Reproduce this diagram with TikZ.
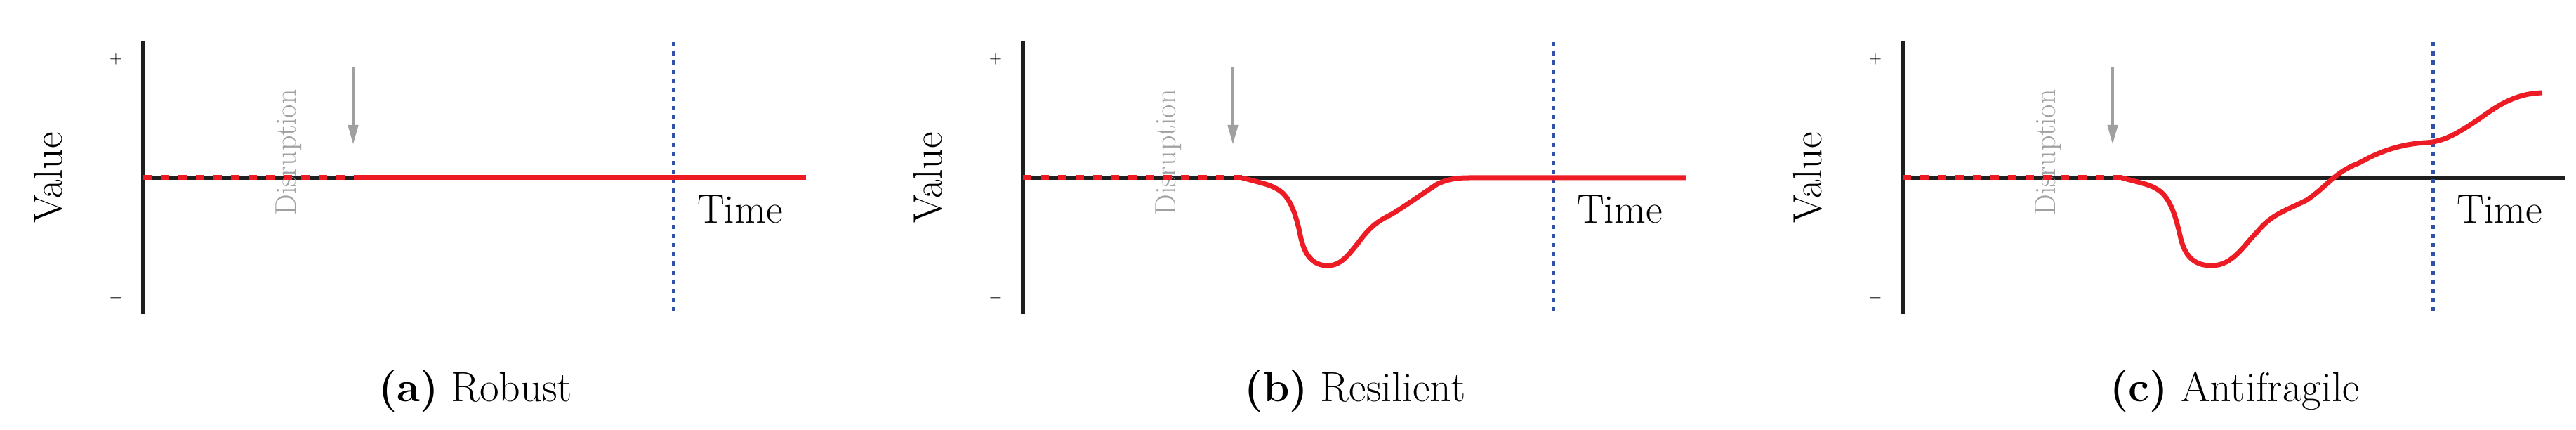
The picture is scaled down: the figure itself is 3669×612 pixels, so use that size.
\documentclass[tikz,border=0pt]{standalone}
\usepackage{xcolor}
\usetikzlibrary{arrows.meta}
\definecolor{cred}{RGB}{237,28,36}
\definecolor{cblue}{RGB}{50,80,170}
\definecolor{cgray}{RGB}{160,160,160}
\begin{document}
\begin{tikzpicture}[x=1pt,y=-1pt,
  axis/.style={line width=6pt,black!88},
  base/.style={line width=6pt,black!88},
  val/.style={line width=7pt,cred,line join=round},
  pre/.style={line width=7pt,cred,dash pattern=on 12pt off 13pt},
  recov/.style={line width=5pt,cblue,dash pattern=on 6pt off 7pt},
  disr/.style={line width=4.5pt,cgray,-{Triangle[width=14pt,length=28pt]}},
  lbl/.style={font=\fontsize{58}{60}\selectfont},
  pm/.style={font=\fontsize{34}{36}\selectfont},
  dlbl/.style={font=\fontsize{42}{44}\selectfont,text=cgray,rotate=90},
  captxt/.style={font=\fontsize{60}{64}\selectfont}]
\useasboundingbox (0,0) rectangle (3669,612);
\foreach \ox/\cp/\nm in {204/{\textbf{(a)} Robust}/a,1457/{\textbf{(b)} Resilient}/b,2710/{\textbf{(c)} Antifragile}/c}{
  \begin{scope}[xshift=\ox pt]
    \coordinate (\nm o) at (0,253);
    \coordinate (\nm e) at (944,253);
    \coordinate (\nm d) at (312,253);
    \draw[axis] (0,59) -- (0,447);
    \draw[base] (\nm o) -- (\nm e);
    \draw[recov] (755,60) -- (755,447);
    \node[pm] (\nm p) at (-39,84) {$+$};
    \node[pm] (\nm m) at (-39,424) {$-$};
    \node[lbl,rotate=90] (\nm v) at (-135,253) {Value};
    \node[lbl] (\nm t) at (850,298) {Time};
    \node[dlbl] (\nm l) at (207,217) {Disruption};
    \coordinate (\nm a1) at (299,95);
    \coordinate (\nm a2) at (299,206);
    \draw[disr] (\nm a1) -- (\nm a2);
    \node[captxt] (\nm c) at (473,557) {\cp};
  \end{scope}}
% panel a
\draw[pre] (ao) -- (ad);
\draw[val] (ad) -- (ae);
% panel b
\draw[pre] (bo) -- (bd);
\begin{scope}[xshift=1457pt]
\draw[val] (312,253) .. controls (330,258) and (350,262) .. (360,268)
  .. controls (378,276) and (388,300) .. (395,335)
  .. controls (402,370) and (418,378) .. (434,378)
  .. controls (452,378) and (462,365) .. (478,345)
  .. controls (495,322) and (505,315) .. (525,305)
  .. controls (545,293) and (570,275) .. (590,262)
  .. controls (605,255) and (618,253) .. (635,253) -- (944,253);
\end{scope}
% panel c
\draw[pre] (co) -- (cd);
\begin{scope}[xshift=2710pt]
\draw[val] (312,253)
  .. controls (330,258) and (350,262) .. (360,268)
  .. controls (380,278) and (388,305) .. (395,335)
  .. controls (402,370) and (420,378) .. (440,378)
  .. controls (470,378) and (485,350) .. (505,330)
  .. controls (525,305) and (545,300) .. (575,285)
  .. controls (605,265) and (615,245) .. (650,232)
  .. controls (680,215) and (710,205) .. (745,203)
  .. controls (770,202) and (790,190) .. (820,170)
  .. controls (850,148) and (875,133) .. (911,132);
\end{scope}
\end{tikzpicture}
\end{document}
